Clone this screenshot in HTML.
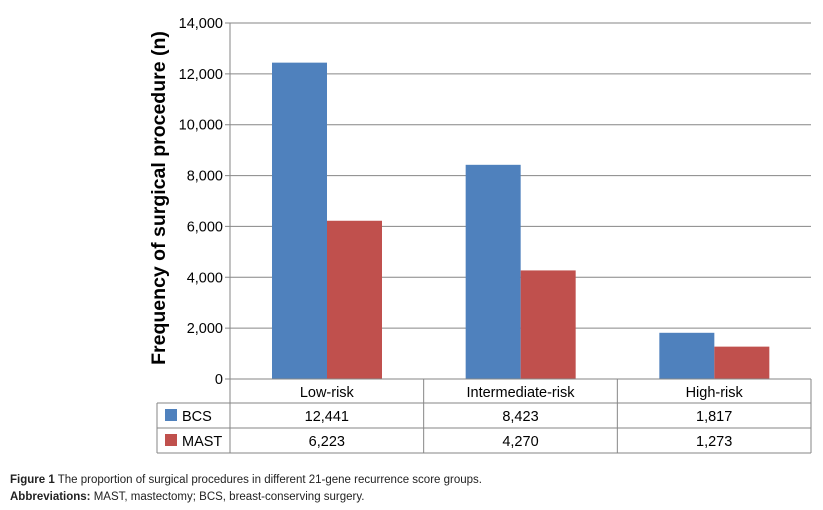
<!DOCTYPE html>
<html><head><meta charset="utf-8"><style>
body{margin:0;background:#fff;width:823px;height:510px;overflow:hidden;font-family:"Liberation Sans",Arial,sans-serif}
svg text{font-family:"Liberation Sans",Arial,sans-serif}
.cap{position:absolute;left:10px;font-size:11.5px;color:#222;font-family:"Liberation Sans",sans-serif}
</style></head><body>
<svg id="c" width="823" height="470" style="position:absolute;left:0;top:0"></svg>
<div class="cap" style="top:474px"><b>Figure 1</b> The proportion of surgical procedures in different 21-gene recurrence score groups.</div>
<div class="cap" style="top:491px"><b>Abbreviations:</b> MAST, mastectomy; BCS, breast-conserving surgery.</div>
<script>
const categories=["Low-risk","Intermediate-risk","High-risk"];
const bcs=[12441,8423,1817];
const mast=[6223,4270,1273];
const bcsLabels=["12,441","8,423","1,817"];
const mastLabels=["6,223","4,270","1,273"];
const yTicks=[0,2000,4000,6000,8000,10000,12000,14000];
const yTickLabels=["0","2,000","4,000","6,000","8,000","10,000","12,000","14,000"];
const svg=document.getElementById('c');const NS="http://www.w3.org/2000/svg";
const L=230,R=811,T=23,B=379,ymax=14000,cw=(R-L)/3;
const y=v=>B-(v/ymax)*(B-T);
const x=i=>L+i*cw;
function add(tag,a,txt){const e=document.createElementNS(NS,tag);for(const k in a)e.setAttribute(k,a[k]);if(txt!==undefined)e.textContent=txt;svg.appendChild(e);return e;}
yTicks.forEach((t,i)=>{
 const g=add('line',{x1:L-5,x2:R,y1:y(t),y2:y(t),stroke:'#868686','stroke-width':1});
 
 
 const l=add('text',{x:L-7,y:y(t)+5,'text-anchor':'end','font-size':14.5,fill:'#000'},yTickLabels[i]);
 
 
});
const yt=add('text',{x:0,y:0,transform:'translate(165,198) rotate(-90)','text-anchor':'middle','font-size':19.5,'font-weight':'bold'},'Frequency of surgical procedure (n)');


add('line',{x1:L,x2:L,y1:T,y2:B,stroke:'#868686'});
categories.forEach((c,i)=>{
 const b=add('rect',{x:x(i)+42,y:y(bcs[i]),width:55,height:B-y(bcs[i]),fill:'#4f81bd'});
 
 
 const m=add('rect',{x:x(i)+97,y:y(mast[i]),width:55,height:B-y(mast[i]),fill:'#c0504d'});
 
 
});
add('line',{x1:L,x2:R,y1:379,y2:379,stroke:'#868686'});
[403,428,453].forEach(r=>add('line',{x1:157,x2:R,y1:r,y2:r,stroke:'#868686'}));
add('line',{x1:157,x2:157,y1:403,y2:453,stroke:'#868686'});
for(let i=0;i<=3;i++)add('line',{x1:x(i),x2:x(i),y1:379,y2:453,stroke:'#868686'});
categories.forEach((c,i)=>{
 const t=add('text',{x:x(i)+cw/2,y:397,'text-anchor':'middle','font-size':14.5},c);
 
 
 const a=add('text',{x:x(i)+cw/2,y:421,'text-anchor':'middle','font-size':14.5},bcsLabels[i]);
 
 
 const b=add('text',{x:x(i)+cw/2,y:446,'text-anchor':'middle','font-size':14.5},mastLabels[i]);
 
 
});
const s1=add('rect',{x:165,y:409,width:12,height:12,fill:'#4f81bd'});


const t1=add('text',{x:182,y:421,'font-size':14.5},'BCS');


const s2=add('rect',{x:165,y:434,width:12,height:12,fill:'#c0504d'});


const t2=add('text',{x:182,y:446,'font-size':14.5},'MAST');


</script>
</body></html>
